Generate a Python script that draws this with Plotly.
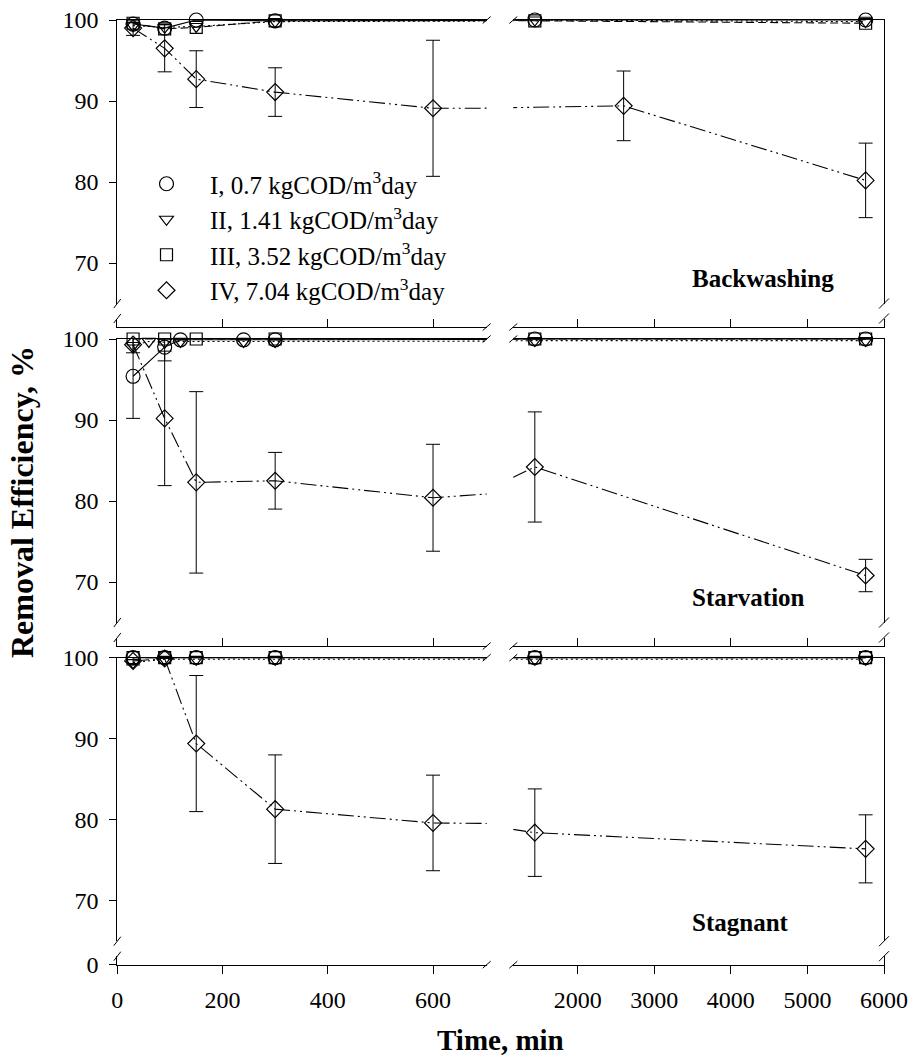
import plotly.graph_objects as go

W, H = 913, 1059
FONT = "Liberation Serif"

# ---------------- data ----------------
conditions = ["Backwashing", "Starvation", "Stagnant"]
series_names = [
    "I, 0.7 kgCOD/m<sup>3</sup>day",
    "II, 1.41 kgCOD/m<sup>3</sup>day",
    "III, 3.52 kgCOD/m<sup>3</sup>day",
    "IV, 7.04 kgCOD/m<sup>3</sup>day",
]

# Backwashing
bw_time = [30, 90, 150, 300, 1440, 5760]
bw_I = [99.5, 99.0, 100.0, 99.9, 100.0, 100.0]
bw_II = [99.3, 99.1, 99.2, 99.8, 100.0, 99.8]
bw_III = [99.6, 98.9, 99.1, 99.9, 99.9, 99.6]
bw_time_IV = [30, 90, 150, 300, 600, 2600, 5760]
bw_IV = [99.0, 96.5, 92.7, 91.1, 89.1, 89.4, 80.2]
bw_IV_err = [0.9, 2.9, 3.5, 3.0, 8.4, 4.3, 4.6]

# Starvation
st_time_I = [30, 90, 120, 240, 300, 1440, 5760]
st_I = [95.4, 99.0, 99.9, 99.9, 99.9, 100.0, 100.0]
st_I_err = [5.2, 1.7, None, None, None, None, None]
st_time_II = [30, 60, 90, 120, 240, 300, 1440, 5760]
st_II = [99.2, 99.7, 99.6, 99.7, 99.7, 99.7, 99.8, 99.8]
st_time_III = [30, 90, 150, 300, 1440, 5760]
st_III = [100.0, 100.0, 100.0, 100.0, 100.0, 100.0]
st_time_IV = [30, 90, 150, 300, 600, 1440, 5760]
st_IV = [99.3, 90.2, 82.3, 82.5, 80.4, 84.2, 70.8]
st_IV_err = [1.0, 8.3, 11.2, 3.5, 6.6, 6.8, 2.0]

# Stagnant
sg_time = [30, 90, 150, 300, 1440, 5760]
sg_I = [100.0, 100.0, 100.0, 100.0, 100.0, 100.0]
sg_II = [99.4, 99.8, 99.8, 99.8, 99.8, 99.8]
sg_III = [100.0, 100.0, 100.0, 100.0, 100.0, 100.0]
sg_time_IV = [30, 90, 150, 300, 600, 1440, 5760]
sg_IV = [99.6, 99.9, 89.4, 81.3, 79.6, 78.4, 76.4]
sg_IV_err = [0.5, None, 8.4, 6.7, 5.9, 5.4, 4.2]

left_ticks = [0, 200, 400, 600]
right_ticks = [2000, 3000, 4000, 5000, 6000]
y_ticks = [70, 80, 90, 100]

panels = [
    [(bw_time, bw_I, None), (bw_time, bw_II, None), (bw_time, bw_III, None),
     (bw_time_IV, bw_IV, bw_IV_err)],
    [(st_time_I, st_I, st_I_err), (st_time_II, st_II, None), (st_time_III, st_III, None),
     (st_time_IV, st_IV, st_IV_err)],
    [(sg_time, sg_I, None), (sg_time, sg_II, None), (sg_time, sg_III, None),
     (sg_time_IV, sg_IV, sg_IV_err)],
]

# ---------------- styling / geometry (pixels) ----------------
symbols = ["circle-open", "triangle-down-open", "square-open", "diamond-open"]
sizes = [14, 12, 12, 13]
dashes = ["solid", "2px,3px", "8px,4px", "16px,4px,2px,4px,2px,4px"]

row_top = [20.0, 339.0, 657.7]      # pixel row of y = 100
upper_h = 283.5                     # 65..100
lower_top, lower_bot = 298.5, 307.0  # short segment ending at y = 0
col_px = [(117.3, 486.7), (513.3, 884.0)]
col_range = [(0, 702), (1159, 6000)]
y_range = (65, 100)


def fx(p):
    return p / W


def fy(p):
    return 1 - p / H


def ax_id(letter, n):
    return letter if n == 1 else f"{letter}{n}"


fig = go.Figure()
layout = {}
line_common = dict(showline=True, linecolor="black", linewidth=1, showgrid=False,
                   zeroline=False, layer="below traces", fixedrange=True,
                   automargin=False)
tickfont = dict(family=FONT, size=24, color="black")

for r in range(3):
    T = row_top[r]
    for c in range(2):
        k = r * 2 + c
        nb, nt = 2 * k + 1, 2 * k + 2
        dom_x = [fx(col_px[c][0]), fx(col_px[c][1])]
        dom_up = [fy(T + upper_h), fy(T)]
        dom_lo = [fy(T + lower_bot), fy(T + lower_top)]
        tv = left_ticks if c == 0 else right_ticks
        last = r == 2

        # bottom x axis (at y = 0)
        layout[f"xaxis{nb}"] = dict(
            domain=dom_x, range=list(col_range[c]), anchor=ax_id("y", nt), side="bottom",
            tickmode="array", tickvals=tv, ticks="outside" if last else "inside",
            ticklen=8, tickwidth=1, tickcolor="black", ticklabelstandoff=5,
            showticklabels=last, tickfont=tickfont, **line_common)
        # top frame line (at y = 100)
        layout[f"xaxis{nt}"] = dict(
            domain=dom_x, range=list(col_range[c]), anchor=ax_id("y", nb), side="top",
            ticks="", showticklabels=False, **line_common)
        # upper y segment
        layout[f"yaxis{nb}"] = dict(
            domain=dom_up, range=list(y_range), anchor=ax_id("x", nb),
            side="left" if c == 0 else "right",
            tickmode="array", tickvals=y_ticks if c == 0 else [],
            ticks="outside" if c == 0 else "", ticklen=7, tickwidth=1, tickcolor="black",
            ticklabelstandoff=6,
            showticklabels=(c == 0), tickfont=tickfont, **line_common)
        # lower y segment (only the 0 level)
        layout[f"yaxis{nt}"] = dict(
            domain=dom_lo, range=[0, 1], anchor=ax_id("x", nb),
            side="left" if c == 0 else "right",
            tickmode="array", tickvals=[0] if (c == 0 and last) else [],
            ticks="outside" if (c == 0 and last) else "", ticklen=7, tickwidth=1,
            tickcolor="black", ticklabelstandoff=6,
            showticklabels=(c == 0 and last), tickfont=tickfont,
            **line_common)

        # empty traces so the frame subplots (x-bottom/y-lower, x-top/y-upper) exist
        for xa_e, ya_e in ((ax_id("x", nb), ax_id("y", nt)), (ax_id("x", nt), ax_id("y", nb))):
            fig.add_trace(go.Scatter(x=[None], y=[None], mode="markers", xaxis=xa_e,
                                     yaxis=ya_e, showlegend=False, hoverinfo="skip"))

        xa, ya = ax_id("x", nb), ax_id("y", nb)
        lo, hi = col_range[c]
        for s, (xs, ys, err) in enumerate(panels[r]):
            # connecting line (clipped to this half of the broken axis)
            fig.add_trace(go.Scatter(
                x=xs, y=ys, mode="lines", xaxis=xa, yaxis=ya, showlegend=False,
                hoverinfo="skip",
                line=dict(color="black", width=1.1, dash=dashes[s])))
            # markers + error bars that fall in this half
            idx = [i for i, v in enumerate(xs) if lo <= v <= hi]
            mx = [xs[i] for i in idx]
            my = [ys[i] for i in idx]
            kw = {}
            if err is not None:
                kw["error_y"] = dict(type="data", array=[err[i] for i in idx],
                                     visible=True, color="black", thickness=1, width=7)
            fig.add_trace(go.Scatter(
                x=mx, y=my, mode="markers", xaxis=xa, yaxis=ya, cliponaxis=False,
                name=series_names[s], showlegend=(k == 0), legendgroup=f"g{s}",
                marker=dict(symbol=symbols[s], size=sizes[s], color="black",
                            line=dict(color="black", width=1.2)),
                **kw))

# ---------------- axis-break marks ----------------
shapes = []


def slash(cx, cy, w, h):
    shapes.append(dict(type="line", xref="paper", yref="paper",
                       x0=fx(cx - w / 2), y0=fy(cy + h / 2),
                       x1=fx(cx + w / 2), y1=fy(cy - h / 2),
                       line=dict(color="black", width=1)))


for r in range(3):
    T = row_top[r]
    for py in (T + upper_h, T + lower_top):
        slash(col_px[0][0], py, 7, 9)
        slash(col_px[1][1], py, 10, 10)
    for py in (T, T + lower_bot):
        slash(col_px[0][1], py, 8, 7)
        slash(col_px[1][0], py, 8, 7)

# ---------------- text ----------------
annotations = []
label_y = [278, 597.7, 922.7]
for r, name in enumerate(conditions):
    annotations.append(dict(
        text=f"<b>{name}</b>", xref="paper", yref="paper", x=fx(690), y=fy(label_y[r]),
        xanchor="left", yanchor="middle", showarrow=False,
        font=dict(family=FONT, size=25, color="black")))

annotations.append(dict(
    text="<b>Time, min</b>", xref="paper", yref="paper", x=fx(501), y=fy(1040),
    xanchor="center", yanchor="middle", showarrow=False,
    font=dict(family=FONT, size=29, color="black")))
annotations.append(dict(
    text="<b>Removal Efficiency, %</b>", xref="paper", yref="paper", x=fx(22),
    y=fy(502), xanchor="center", yanchor="middle", textangle=-90, showarrow=False,
    font=dict(family=FONT, size=32, color="black")))

fig.update_layout(
    width=W, height=H, margin=dict(l=0, r=0, t=0, b=0, autoexpand=False),
    paper_bgcolor="white", plot_bgcolor="rgba(0,0,0,0)",
    font=dict(family=FONT, color="black"),
    shapes=shapes, annotations=annotations,
    legend=dict(x=fx(123), y=fy(161), xanchor="left", yanchor="top",
                bgcolor="rgba(0,0,0,0)", borderwidth=0, itemwidth=77,
                traceorder="normal", tracegroupgap=4,
                font=dict(family=FONT, size=25, color="black")),
    **layout,
)

fig.write_html("out.html")
